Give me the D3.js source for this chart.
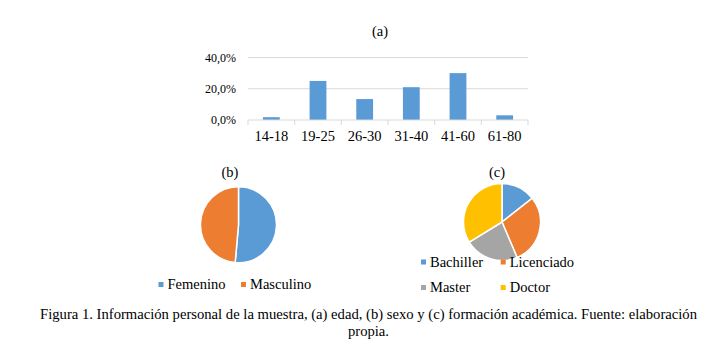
<!DOCTYPE html>
<html>
<head>
<meta charset="utf-8">
<script src="https://cdn.jsdelivr.net/npm/d3@7"></script>
<style>
  body { margin: 0; background: #fff; }
  text { font-family: "Liberation Serif", "Times New Roman", serif; fill: #000; }
</style>
</head>
<body>
<div id="chart-area"></div>
<script>
// (a) edad
var ageGroups = ["14-18", "19-25", "26-30", "31-40", "41-60", "61-80"];
var ageValues = [1.8, 25.0, 13.4, 21.0, 30.0, 3.0];
var ageTicks = [0, 20, 40];

// (b) sexo
var sexLabels = ["Femenino", "Masculino"];
var sexValues = [51.4, 48.6];

// (c) formación académica
var eduLabels = ["Bachiller", "Licenciado", "Master", "Doctor"];
var eduValues = [14.4, 29.2, 22.6, 33.8];

var captionLines = [
    "Figura 1. Información personal de la muestra, (a) edad, (b) sexo y (c) formación académica. Fuente: elaboración",
    "propia."
];

var colors = ["#5B9BD5", "#ED7D31", "#A5A5A5", "#FFC000"];

var W = 727, H = 351;

var svg = d3.select("#chart-area")
    .append("svg")
    .attr("width", W)
    .attr("height", H)
    .style("display", "block");

// ---- bar chart ----
var bar = { left: 248, right: 528, top: 57.5, bottom: 120 };

var x = d3.scaleBand().domain(ageGroups).range([bar.left, bar.right]).paddingInner(0.64).paddingOuter(0.32);
var xb = d3.scaleBand().domain(ageGroups).range([bar.left, bar.right]);
var y = d3.scaleLinear().domain([0, 40]).range([bar.bottom, bar.top]);

var gBar = svg.append("g");

gBar.append("text")
    .attr("x", 380)
    .attr("y", 36)
    .attr("text-anchor", "middle")
    .attr("font-size", "14.5px")
    .text("(a)");

gBar.selectAll(".grid")
    .data(ageTicks.slice(1))
    .enter()
    .append("line")
    .attr("x1", bar.left)
    .attr("x2", bar.right)
    .attr("y1", d => y(d))
    .attr("y2", d => y(d))
    .attr("stroke", "#D9D9D9")
    .attr("stroke-width", 1);

var yAxis = d3.axisLeft(y)
    .tickValues(ageTicks)
    .tickSize(0)
    .tickPadding(12)
    .tickFormat(d => d.toFixed(1).replace(".", ",") + "%");

gBar.append("g")
    .attr("transform", `translate(${bar.left},0)`)
    .call(yAxis)
    .call(g => g.select(".domain").remove())
    .call(g => g.selectAll("text")
        .attr("font-size", "12px")
        .attr("font-family", "Liberation Sans, Arial, sans-serif")
        .attr("fill", "#000"));

gBar.selectAll(".bar")
    .data(ageValues)
    .enter()
    .append("rect")
    .attr("x", (d, i) => x(ageGroups[i]))
    .attr("width", x.bandwidth())
    .attr("y", d => y(d))
    .attr("height", d => y(0) - y(d))
    .attr("fill", colors[0]);

// baseline + tick marks
gBar.append("line")
    .attr("x1", bar.left)
    .attr("x2", bar.right)
    .attr("y1", y(0))
    .attr("y2", y(0))
    .attr("stroke", "#D9D9D9");

var tickXs = ageGroups.map(d => xb(d)).concat([bar.right]);
gBar.selectAll(".xtick")
    .data(tickXs)
    .enter()
    .append("line")
    .attr("x1", d => d)
    .attr("x2", d => d)
    .attr("y1", y(0))
    .attr("y2", y(0) + 5)
    .attr("stroke", "#D9D9D9");

gBar.selectAll(".xlabel")
    .data(ageGroups)
    .enter()
    .append("text")
    .attr("x", d => xb(d) + xb.bandwidth() / 2)
    .attr("y", 141)
    .attr("text-anchor", "middle")
    .attr("font-size", "14.5px")
    .text(d => d);

// ---- pies ----
var pie = d3.pie().sort(null).startAngle(0);

function drawPie(cx, cy, r, values, title, tx, ty) {
    var g = svg.append("g").attr("transform", `translate(${cx},${cy})`);
    var arc = d3.arc().innerRadius(0).outerRadius(r);
    g.selectAll("path")
        .data(pie(values))
        .enter()
        .append("path")
        .attr("d", arc)
        .attr("fill", (d, i) => colors[i])
        .attr("stroke", "#fff")
        .attr("stroke-width", 1.5);
    svg.append("text")
        .attr("x", tx)
        .attr("y", ty)
        .attr("text-anchor", "middle")
        .attr("font-size", "14.5px")
        .text(title);
}

function drawLegend(items, positions) {
    var rows = svg.selectAll(null)
        .data(items)
        .enter()
        .append("g")
        .attr("transform", (d, i) => `translate(${positions[i][0]},${positions[i][1]})`);
    rows.append("rect")
        .attr("x", 0)
        .attr("y", -2.5)
        .attr("width", 5)
        .attr("height", 5)
        .attr("fill", (d, i) => colors[i]);
    rows.append("text")
        .attr("x", 9)
        .attr("y", 4.5)
        .attr("font-size", "14.5px")
        .text(d => d);
}

drawPie(238.5, 224.7, 38, sexValues, "(b)", 230, 177);
drawLegend(sexLabels, [[158.5, 284.5], [241, 284.5]]);

drawPie(502, 222, 38.5, eduValues, "(c)", 497, 177);
drawLegend(eduLabels, [[421, 262], [500.7, 262], [421, 287.5], [500.7, 287.5]]);

// ---- caption ----
svg.selectAll(".caption")
    .data(captionLines)
    .enter()
    .append("text")
    .attr("x", 368.5)
    .attr("y", (d, i) => 319 + i * 17)
    .attr("text-anchor", "middle")
    .attr("font-size", "14.65px")
    .text(d => d);
</script>
</body>
</html>
